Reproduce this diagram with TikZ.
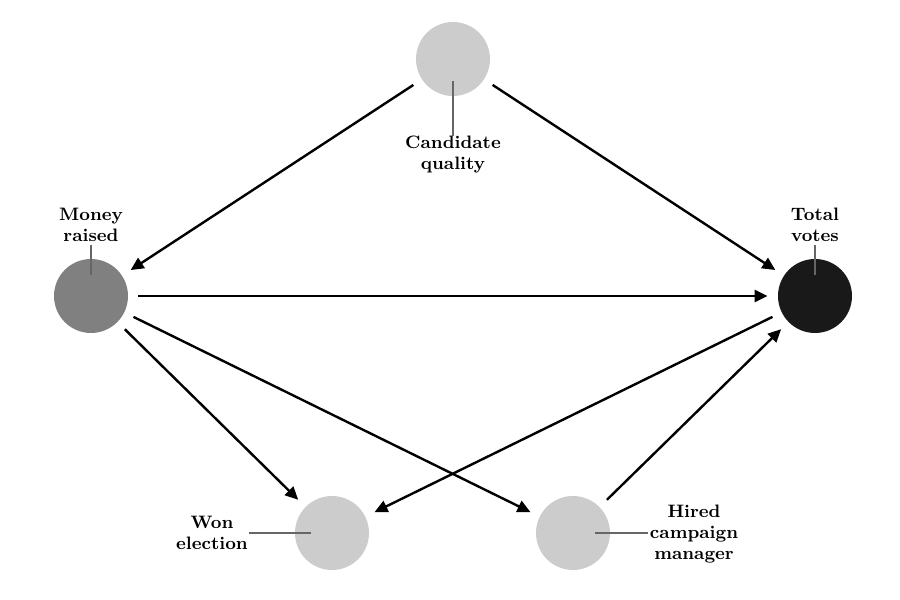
\documentclass[tikz,border=0pt]{standalone}
\usetikzlibrary{arrows.meta}
\begin{document}
\begin{tikzpicture}[x=0.5pt,y=-0.5pt,
  var/.style={circle,minimum size=37pt,inner sep=0pt,draw=none},
  light/.style={var,fill=black!20},
  mid/.style={var,fill=black!50},
  dark/.style={var,fill=black!90},
  lab/.style={font=\fontsize{9}{10.5}\selectfont\bfseries,align=center,inner sep=0pt},
  ptr/.style={draw=black!60,line width=0.8pt},
  edge/.style={line width=1.2pt,-{Triangle[length=6.5pt,width=6pt]},shorten <=5pt,shorten >=5pt}]
\useasboundingbox (0,0) rectangle (900,600);
\node[light] (cq) at (453,59) {};
\node[mid] (mr) at (91,296) {};
\node[dark] (tv) at (815,296) {};
\node[light] (we) at (332,533) {};
\node[light] (hc) at (573,533) {};
% labels
\node[lab] (cql) at (453,155) {Candidate\\quality};
\node[lab] (mrl) at (91,225) {Money\\raised};
\node[lab] (tvl) at (815,225) {Total\\votes};
\node[lab] (wel) at (212,533) {Won\\election};
\node[lab] (hcl) at (694,534) {Hired\\campaign\\manager};
\coordinate (cqa) at (453,81); \coordinate (cqb) at (453,136);
\coordinate (mra) at (91,245); \coordinate (mrb) at (91,275);
\coordinate (tva) at (815,245); \coordinate (tvb) at (815,275);
\coordinate (wea) at (249,533); \coordinate (web) at (311,533);
\coordinate (hca) at (595,533); \coordinate (hcb) at (648,533);
\draw[ptr] (cqa) -- (cqb);
\draw[ptr] (mra) -- (mrb);
\draw[ptr] (tva) -- (tvb);
\draw[ptr] (wea) -- (web);
\draw[ptr] (hca) -- (hcb);
% edges
\draw[edge] (cq) -- (mr);
\draw[edge] (cq) -- (tv);
\draw[edge] (mr) -- (tv);
\draw[edge] (mr) -- (we);
\draw[edge] (mr) -- (hc);
\draw[edge] (tv) -- (we);
\draw[edge] (hc) -- (tv);
\end{tikzpicture}
\end{document}
